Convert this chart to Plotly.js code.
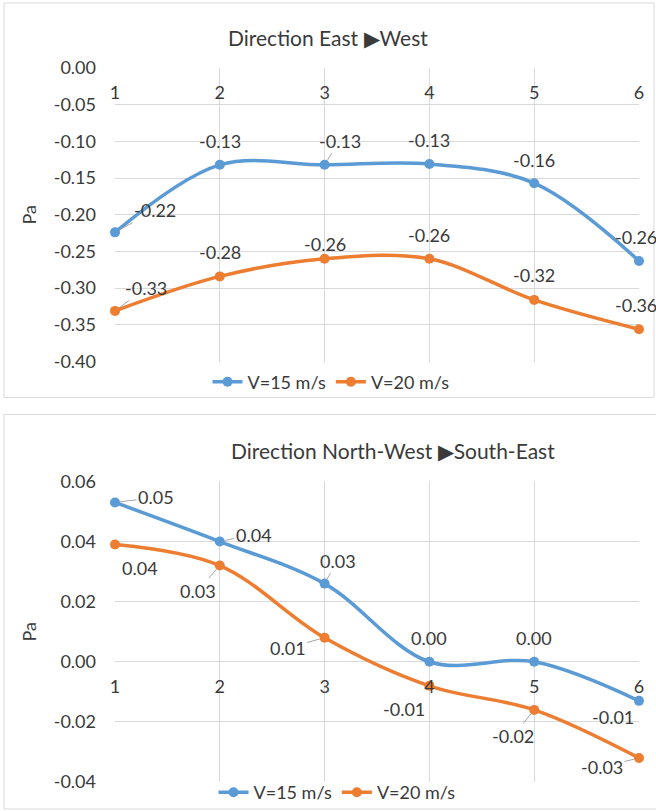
<!DOCTYPE html>
<html><head><meta charset="utf-8">
<script src="https://cdn.plot.ly/plotly-3.0.1.min.js"></script>
<style>html,body{margin:0;padding:0;background:#fff}#chart{width:656px;height:811px}</style>
</head><body><div id="chart"></div>
<script>
// ---- data ----
const positions = [1, 2, 3, 4, 5, 6];
const seriesNames = ['V=15 m/s', 'V=20 m/s'];
const ewV15 = [-0.224, -0.132, -0.132, -0.131, -0.157, -0.263];
const ewV20 = [-0.331, -0.284, -0.260, -0.260, -0.316, -0.356];
const nwV15 = [0.053, 0.040, 0.026, 0.000, 0.000, -0.013];
const nwV20 = [0.039, 0.032, 0.008, -0.008, -0.016, -0.032];
const ewTicks = [0, -0.05, -0.10, -0.15, -0.20, -0.25, -0.30, -0.35, -0.40];
const nwTicks = [0.06, 0.04, 0.02, 0, -0.02, -0.04];
const chartTitles = ['Direction East \u25B6West', 'Direction North-West \u25B6South-East'];
const axisTitle = 'Pa';

// ---- styling ----
const W = 656, H = 811, ML = 115, MR = 17;
const PW = W - ML - MR;
const px = v => (v - ML) / PW;
const py = v => 1 - v / H;
const BLUE = '#5B9BD5', ORANGE = '#ED7D31', GRID = '#d9d9d9', TXT = '#3a3a3a';
const FONT = 'Lato, "Noto Sans", sans-serif';
const FS = 18;
const fmt = v => v.toFixed(2);

const dom1 = [py(362), py(68)], rng1 = [-0.40, 0];
const dom2 = [py(783), py(482)], rng2 = [-0.04, 0.06];
const zeroPos = (d, r) => d[0] + (0 - r[0]) / (r[1] - r[0]) * (d[1] - d[0]);

// label offsets (px) and leader line flags
const offEW15 = [[40,-22],[0,-24],[15,-24],[0,-24],[0,-23],[-3,-24]], leadEW15 = [1,0,1,0,0,0];
const offEW20 = [[31,-23],[0,-24],[0,-15],[0,-24],[0,-25],[-3,-24]], leadEW20 = [1,0,0,0,0,0];
const offNW15 = [[41,-5],[34,-7],[13,-23],[0,-24],[0,-24],[-26,16]], leadNW15 = [1,1,1,0,0,0];
const offNW20 = [[25,23],[-22,25],[-37,10],[-25,23],[-21,26],[-37,9]], leadNW20 = [0,1,1,0,1,1];

function trace(y, name, color, xa, ya, leg) {
  return {x: positions, y: y, name: name, type: 'scatter', mode: 'lines+markers',
    xaxis: xa, yaxis: ya, legend: leg, cliponaxis: false,
    line: {color: color, width: 3.5, shape: 'spline', smoothing: 1},
    marker: {color: color, size: 10}, hoverinfo: 'skip'};
}
const data = [
  trace(ewV15, seriesNames[0], BLUE, 'x', 'y', 'legend'),
  trace(ewV20, seriesNames[1], ORANGE, 'x', 'y', 'legend'),
  trace(nwV15, seriesNames[0], BLUE, 'x2', 'y2', 'legend2'),
  trace(nwV20, seriesNames[1], ORANGE, 'x2', 'y2', 'legend2')
];

function labels(vals, offs, leads, xr, yr) {
  return vals.map((v, i) => ({
    xref: xr, yref: yr, x: positions[i], y: v, text: fmt(v),
    showarrow: true, ax: offs[i][0], ay: offs[i][1], arrowhead: 0, arrowwidth: 1,
    arrowcolor: leads[i] ? '#a6a6a6' : 'rgba(0,0,0,0)', standoff: 5,
    font: {family: FONT, size: FS, color: TXT}
  }));
}
const annotations = [].concat(
  labels(ewV15, offEW15, leadEW15, 'x', 'y'),
  labels(ewV20, offEW20, leadEW20, 'x', 'y'),
  labels(nwV15, offNW15, leadNW15, 'x2', 'y2'),
  labels(nwV20, offNW20, leadNW20, 'x2', 'y2'),
  [
    {xref: 'paper', yref: 'paper', x: px(328), y: py(38), text: chartTitles[0], showarrow: false,
     xanchor: 'center', yanchor: 'middle', font: {family: FONT, size: 21, color: TXT}},
    {xref: 'paper', yref: 'paper', x: px(393), y: py(451), text: chartTitles[1], showarrow: false,
     xanchor: 'center', yanchor: 'middle', font: {family: FONT, size: 21, color: TXT}}
  ]
);

const xBase = {range: [1, 6], tickvals: positions, ticktext: positions.map(String), showgrid: true,
  gridcolor: GRID, gridwidth: 1, zeroline: false, showline: false, ticks: '', ticklabelstandoff: 12,
  tickfont: {family: FONT, size: FS, color: TXT}, anchor: 'free', fixedrange: true};
function yAxis(rng, dom, ticks, anchor) {
  return {range: rng, domain: dom, tickvals: ticks, ticktext: ticks.map(fmt), showgrid: true,
    gridcolor: GRID, gridwidth: 1, zeroline: false, showline: false, ticks: '', ticklabelstandoff: 18,
    tickfont: {family: FONT, size: FS, color: TXT}, anchor: anchor, automargin: false,
    title: {text: axisTitle, standoff: 12, font: {family: FONT, size: FS, color: TXT}}};
}

const layout = {
  width: W, height: H, margin: {l: ML, r: MR, t: 0, b: 0},
  paper_bgcolor: '#fff', plot_bgcolor: '#fff', font: {family: FONT, color: TXT},
  xaxis: Object.assign({}, xBase, {position: zeroPos(dom1, rng1)}),
  yaxis: yAxis(rng1, dom1, ewTicks, 'x'),
  xaxis2: Object.assign({}, xBase, {position: zeroPos(dom2, rng2)}),
  yaxis2: yAxis(rng2, dom2, nwTicks, 'x2'),
  legend: {orientation: 'h', x: px(331), y: py(382), xanchor: 'center', yanchor: 'middle',
    font: {family: FONT, size: FS, color: TXT}, bgcolor: 'rgba(0,0,0,0)'},
  legend2: {orientation: 'h', x: px(337), y: py(793), xanchor: 'center', yanchor: 'middle',
    font: {family: FONT, size: FS, color: TXT}, bgcolor: 'rgba(0,0,0,0)'},
  showlegend: true,
  annotations: annotations,
  shapes: [
    {type: 'rect', xref: 'paper', yref: 'paper', x0: px(4), x1: px(654), y0: py(398), y1: py(3),
     line: {color: GRID, width: 1}, layer: 'below'},
    {type: 'rect', xref: 'paper', yref: 'paper', x0: px(4), x1: px(720), y0: py(810), y1: py(415),
     line: {color: GRID, width: 1}, layer: 'below'}
  ]
};
Plotly.newPlot('chart', data, layout, {staticPlot: true, displayModeBar: false});
</script></body></html>
